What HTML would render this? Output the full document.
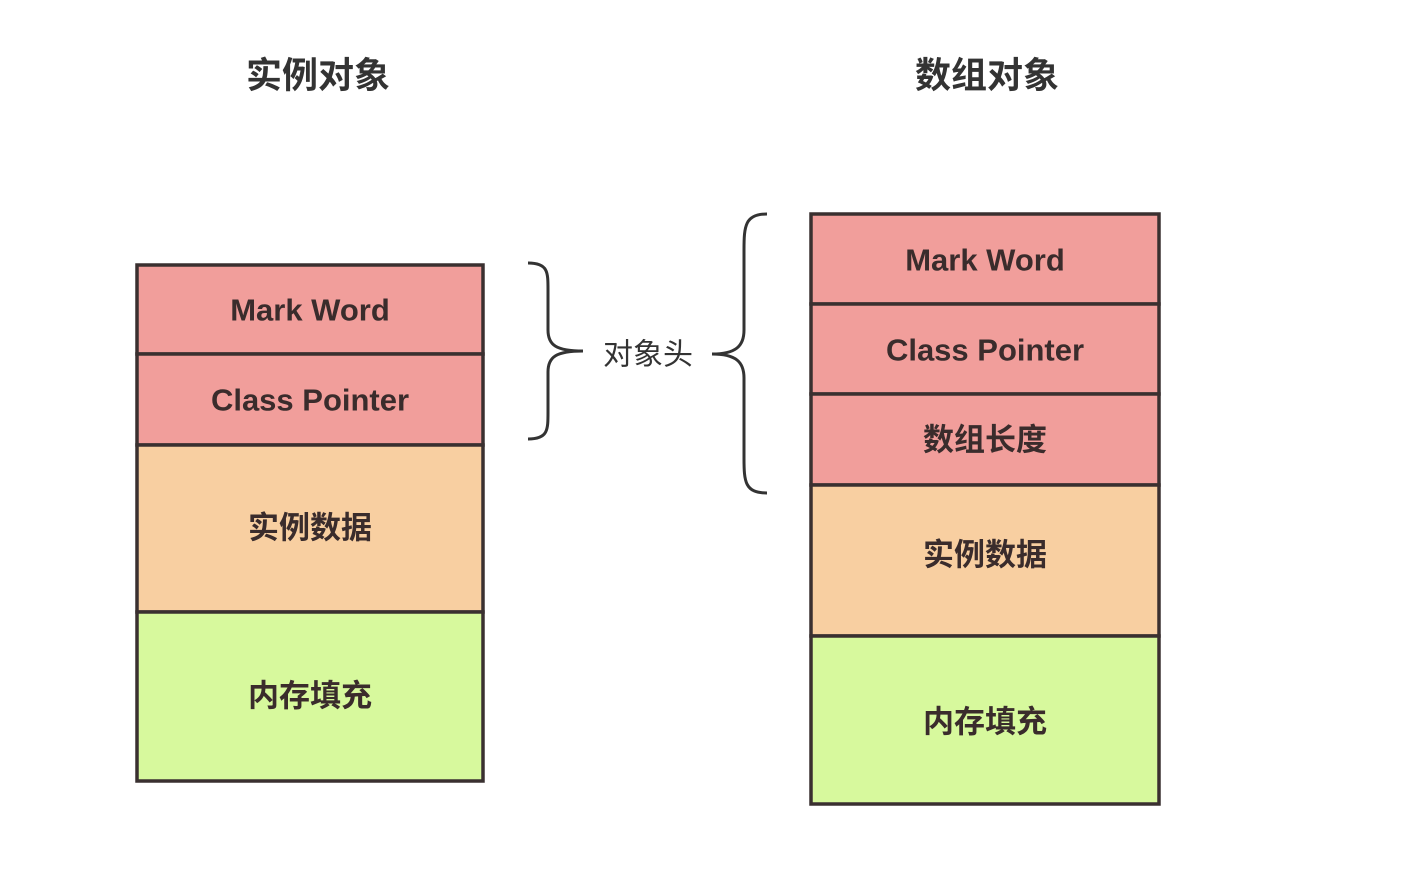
<!DOCTYPE html>
<html><head><meta charset="utf-8"><style>
html,body{margin:0;padding:0;background:#fff;}
svg{display:block;}
text{font-family:"Liberation Sans","Noto Sans CJK SC",sans-serif;font-weight:bold;fill:#3a2c2c;text-anchor:middle;dominant-baseline:central;}
</style></head><body>
<svg width="1418" height="882" viewBox="0 0 1418 882" xmlns="http://www.w3.org/2000/svg">
<text x="318" y="75" style="font-size:36px;fill:#333">实例对象</text>
<text x="987" y="75" style="font-size:36px;fill:#333">数组对象</text>

<g stroke="#3a3030" stroke-width="3.5">
<rect x="137" y="265" width="346" height="89" fill="#f19e9b"/>
<rect x="137" y="354" width="346" height="91" fill="#f19e9b"/>
<rect x="137" y="445" width="346" height="167" fill="#f8cfa1"/>
<rect x="137" y="612" width="346" height="169" fill="#d7f99d"/>

<rect x="811" y="214" width="348" height="90" fill="#f19e9b"/>
<rect x="811" y="304" width="348" height="90" fill="#f19e9b"/>
<rect x="811" y="394" width="348" height="91" fill="#f19e9b"/>
<rect x="811" y="485" width="348" height="151" fill="#f8cfa1"/>
<rect x="811" y="636" width="348" height="168" fill="#d7f99d"/>
</g>

<text x="310" y="310" style="font-size:31px">Mark Word</text>
<text x="310" y="400" style="font-size:31px">Class Pointer</text>
<text x="310" y="528" style="font-size:31px">实例数据</text>
<text x="310" y="696" style="font-size:31px">内存填充</text>

<text x="985" y="260" style="font-size:31px">Mark Word</text>
<text x="985" y="350" style="font-size:31px">Class Pointer</text>
<text x="985" y="440" style="font-size:31px">数组长度</text>
<text x="985" y="555" style="font-size:31px">实例数据</text>
<text x="985" y="722" style="font-size:31px">内存填充</text>

<g fill="none" stroke="#333" stroke-width="3">
<path d="M528 263 C548 263 548 272 548 290 L548 330 C548 345 556 351 583 351 C556 351 548 357 548 372 L548 412 C548 430 548 439 528 439"/>
<path d="M767 214 C745 214 744 226 744 250 L744 330 C744 346 736 354 712 354 C736 354 744 362 744 378 L744 458 C744 482 745 493 767 493"/>
</g>
<text x="648" y="355" style="font-size:30px;font-weight:normal;fill:#333">对象头</text>
</svg>
</body></html>
